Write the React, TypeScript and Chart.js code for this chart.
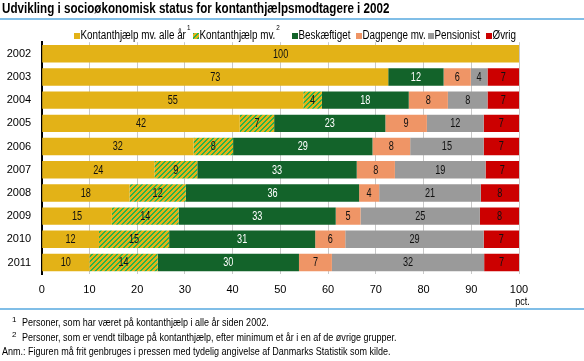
import React, { useEffect, useRef } from 'react';
import { Chart, registerables } from 'chart.js';

Chart.register(...registerables);

const FONT = '"Liberation Sans", Arial, sans-serif';
const NARROW = 0.82;

const titleText = 'Udvikling i socioøkonomisk status for kontanthjælpsmodtagere i 2002';
const years = ['2002', '2003', '2004', '2005', '2006', '2007', '2008', '2009', '2010', '2011'];
const seriesNames = ['Kontanthjælp mv. alle år', 'Kontanthjælp mv.', 'Beskæftiget', 'Dagpenge mv.', 'Pensionist', 'Øvrig'];
const seriesNoteMarks = ['1', '2', '', '', '', ''];
const kontAlleAar = [100, 72.6, 54.8, 41.5, 31.8, 23.6, 18.4, 14.7, 12.0, 10.0];
const kontMv = [0, 0, 3.9, 7.2, 8.3, 9.0, 11.8, 14.0, 14.7, 14.3];
const beskaeftiget = [0, 11.6, 18.2, 23.3, 29.2, 33.4, 36.3, 32.9, 30.6, 29.6];
const dagpenge = [0, 5.7, 8.2, 8.7, 7.9, 8.0, 4.2, 5.2, 6.3, 6.9];
const pensionist = [0, 3.5, 8.3, 11.9, 15.4, 19.0, 21.3, 25.0, 29.0, 31.9];
const oevrig = [0, 6.6, 6.6, 7.4, 7.4, 7.0, 8.0, 8.2, 7.4, 7.3];
const unitLabel = 'pct.';
const footnotes = [
  { sup: '1', text: 'Personer, som har været på kontanthjælp i alle år siden 2002.' },
  { sup: '2', text: 'Personer, som er vendt tilbage på kontanthjælp, efter minimum et år i en af de øvrige grupper.' },
  { sup: '', text: 'Anm.: Figuren må frit genbruges i pressen med tydelig angivelse af Danmarks Statistik som kilde.' },
];

const YELLOW = '#e3b217';
const HATCH_GREEN = '#2bb34b';
const DARK_GREEN = '#13632a';
const SALMON = '#ef9566';
const GRAY = '#9a9a9a';
const RED = '#cc0000';
const BLUE_RULE = '#80bee7';

function makeHatch(): CanvasPattern | string {
  const c = document.createElement('canvas');
  const n = 5;
  c.width = n;
  c.height = n;
  const cx = c.getContext('2d');
  if (!cx) return YELLOW;
  cx.fillStyle = YELLOW;
  cx.fillRect(0, 0, n, n);
  cx.fillStyle = HATCH_GREEN;
  for (let x = 0; x < n; x++) {
    for (let y = 0; y < n; y++) {
      const m = (x + y) % n;
      if (m === 0 || m === 1) cx.fillRect(x, y, 1, 1);
    }
  }
  const p = cx.createPattern(c, 'repeat');
  return p || YELLOW;
}

function narrowText(ctx: CanvasRenderingContext2D, text: string, x: number, y: number, font: string, sx: number, align: 'left' | 'center' | 'right' = 'left'): number {
  ctx.save();
  ctx.font = font;
  const w = ctx.measureText(text).width * sx;
  const left = align === 'center' ? x - w / 2 : align === 'right' ? x - w : x;
  ctx.translate(left, y);
  ctx.scale(sx, 1);
  ctx.textAlign = 'left';
  ctx.textBaseline = 'middle';
  ctx.fillText(text, 0, 0);
  ctx.restore();
  return w;
}

const decorPlugin = {
  id: 'decor',
  afterDraw(chart: any) {
    const ctx: CanvasRenderingContext2D = chart.ctx;
    const area = chart.chartArea;
    ctx.save();
    // title
    ctx.fillStyle = '#000';
    narrowText(ctx, titleText, 2, 9.5, `bold 14px ${FONT}`, 0.83);
    // rules
    ctx.fillStyle = BLUE_RULE;
    ctx.fillRect(0, 18, chart.width, 2);
    ctx.fillRect(0, 308, chart.width, 2);
    // unit
    ctx.fillStyle = '#000';
    narrowText(ctx, unitLabel, area.right + 3.5, 301.5, `11px ${FONT}`, NARROW, 'center');
    // legend
    const boxX = [74, 193, 292, 356, 428, 486];
    const ly = 36;
    chart.data.datasets.forEach((ds: any, i: number) => {
      const bx = boxX[i];
      ctx.fillStyle = ds.backgroundColor;
      ctx.fillRect(bx, ly - 3, 6, 6);
      ctx.fillStyle = '#000';
      const w = narrowText(ctx, ds.label, bx + 6.5, ly, `12px ${FONT}`, NARROW);
      const mark = seriesNoteMarks[i];
      if (mark) narrowText(ctx, mark, bx + 6.5 + w + 1, ly - 8, `7px ${FONT}`, 0.9);
    });
    ctx.restore();
  },
};

const valueLabelPlugin = {
  id: 'valueLabels',
  afterDatasetsDraw(chart: any) {
    const ctx: CanvasRenderingContext2D = chart.ctx;
    ctx.save();
    chart.data.datasets.forEach((ds: any, di: number) => {
      const meta = chart.getDatasetMeta(di);
      meta.data.forEach((el: any, i: number) => {
        const v = ds.data[i];
        if (!v) return;
        ctx.fillStyle = di === 2 ? '#ffffff' : '#111111';
        narrowText(ctx, String(Math.round(v)), (el.x + el.base) / 2, el.y + 0.5, `12px ${FONT}`, 0.76, 'center');
      });
    });
    ctx.restore();
  },
};

export default function App() {
  const ref = useRef<HTMLCanvasElement>(null);

  useEffect(() => {
    document.body.style.margin = '0';
    const canvas = ref.current;
    if (!canvas) return;
    const hatch = makeHatch();
    const colors = [YELLOW, hatch, DARK_GREEN, SALMON, GRAY, RED];
    const values = [kontAlleAar, kontMv, beskaeftiget, dagpenge, pensionist, oevrig];
    const chart = new Chart(canvas, {
      type: 'bar',
      data: {
        labels: years,
        datasets: values.map((d, i) => ({
          label: seriesNames[i],
          data: d,
          backgroundColor: colors[i] as any,
          borderWidth: 0,
          barPercentage: 0.75,
          categoryPercentage: 1,
        })),
      },
      options: {
        indexAxis: 'y',
        animation: false,
        responsive: false,
        devicePixelRatio: 1,
        layout: { padding: { left: 6, right: 65, top: 42.2, bottom: 66.9 } },
        plugins: {
          title: { display: false },
          tooltip: { enabled: false },
          legend: { display: false },
        },
        scales: {
          x: {
            stacked: true,
            min: 0,
            max: 100,
            afterFit(scale: any) { scale.height = 20; },
            ticks: { stepSize: 10, color: '#000', padding: 9, font: { family: FONT, size: 11 } },
            grid: { color: '#c8c8c8', lineWidth: 1, drawTicks: false },
            border: { display: false },
          },
          y: {
            stacked: true,
            afterFit(scale: any) { scale.width = 35.7; },
            ticks: { color: '#000', padding: 10.5, font: { family: FONT, size: 11 } },
            grid: { display: false, drawTicks: false },
            border: { display: true, color: '#000', width: 2 },
          },
        },
      },
      plugins: [decorPlugin, valueLabelPlugin],
    });
    return () => chart.destroy();
  }, []);

  const noteTops = [316, 331.3, 345];
  return (
    <div style={{ position: 'relative', width: 584, height: 361, background: '#fff', overflow: 'hidden' }}>
      <canvas ref={ref} width={584} height={361} style={{ display: 'block', width: 584, height: 361 }} />
      {footnotes.map((f, i) => (
        <React.Fragment key={i}>
          {f.sup ? (
            <div style={{ position: 'absolute', left: 12, top: noteTops[i] - 3, fontFamily: FONT, fontSize: 8, lineHeight: '13px', color: '#000' }}>{f.sup}</div>
          ) : null}
          <div
            style={{
              position: 'absolute',
              left: f.sup ? 21.5 : 2,
              top: noteTops[i],
              fontFamily: FONT,
              fontSize: 11,
              lineHeight: '13px',
              color: '#000',
              whiteSpace: 'nowrap',
              transform: `scaleX(${NARROW})`,
              transformOrigin: '0 0',
            }}
          >
            {f.text}
          </div>
        </React.Fragment>
      ))}
    </div>
  );
}
